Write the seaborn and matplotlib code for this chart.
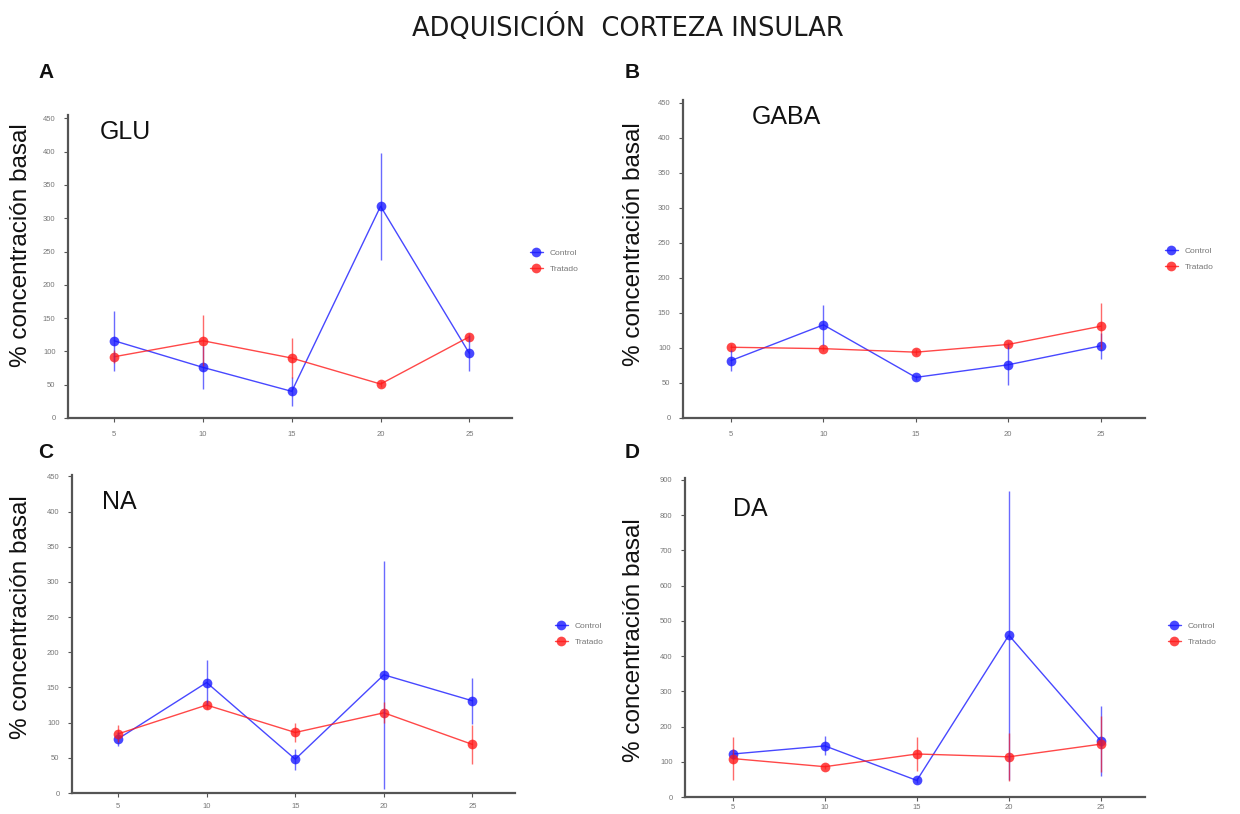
import numpy as np
import pandas as pd
import matplotlib
matplotlib.use("Agg")
import matplotlib.pyplot as plt
import seaborn as sns

sns.set_theme(style="white")
plt.rcParams["font.family"] = ["Liberation Sans", "DejaVu Sans"]

# Time points (min) and groups
tiempos = [5, 10, 15, 20, 25]
grupos = ["Control", "Tratado"]

# GLU
glu_control = [116, 76, 40, 318, 97]
glu_control_err = [45, 32, 22, 80, 27]
glu_tratado = [92, 116, 90, 51, 122]
glu_tratado_err = [10, 38, 30, 5, 5]

# GABA
gaba_control = [82, 133, 58, 76, 103]
gaba_control_err = [15, 29, 4, 29, 19]
gaba_tratado = [101, 99, 94, 105, 131]
gaba_tratado_err = [4, 4, 4, 4, 33]

# NA
na_control = [77, 157, 48, 168, 131]
na_control_err = [10, 32, 15, 162, 33]
na_tratado = [84, 125, 86, 114, 69]
na_tratado_err = [12, 5, 13, 15, 28]

# DA
da_control = [122, 145, 47, 459, 159]
da_control_err = [15, 27, 6, 410, 100]
da_tratado = [109, 86, 122, 114, 150]
da_tratado_err = [60, 6, 48, 68, 80]

colores = {"Control": "#1a1aff", "Tratado": "#ff1a1a"}

W, H = 1240, 814
fig = plt.figure(figsize=(W / 100, H / 100), dpi=100)


def rect(left, top, right, bottom):
    return [left / W, 1 - bottom / H, (right - left) / W, (bottom - top) / H]


paneles = [
    dict(nombre="GLU", letra="A", c=glu_control, ce=glu_control_err,
         t=glu_tratado, te=glu_tratado_err, ymax=450, ytop=455,
         box=(68, 115, 512, 418), letra_xy=(38, 72), tit_xy=(100, 120),
         ylab_xy=(21, 245), leg_xy=(522, 261), pad=6),
    dict(nombre="GABA", letra="B", c=gaba_control, ce=gaba_control_err,
         t=gaba_tratado, te=gaba_tratado_err, ymax=450, ytop=454,
         box=(683, 100, 1145, 418), letra_xy=(625, 72), tit_xy=(752, 105),
         ylab_xy=(634, 244), leg_xy=(1157, 259), pad=6),
    dict(nombre="NA", letra="C", c=na_control, ce=na_control_err,
         t=na_tratado, te=na_tratado_err, ymax=450, ytop=452,
         box=(72, 475, 515, 793), letra_xy=(38, 452), tit_xy=(102, 490),
         ylab_xy=(21, 617), leg_xy=(547, 634), pad=4),
    dict(nombre="DA", letra="D", c=da_control, ce=da_control_err,
         t=da_tratado, te=da_tratado_err, ymax=900, ytop=905,
         box=(685, 478, 1145, 797), letra_xy=(625, 452), tit_xy=(733, 497),
         ylab_xy=(634, 640), leg_xy=(1160, 634), pad=2),
]

for p in paneles:
    ax = fig.add_axes(rect(*p["box"]))
    df = pd.DataFrame({
        "tiempo": tiempos * 2,
        "valor": p["c"] + p["t"],
        "error": p["ce"] + p["te"],
        "grupo": ["Control"] * 5 + ["Tratado"] * 5,
    })
    sns.lineplot(data=df, x="tiempo", y="valor", hue="grupo", hue_order=grupos,
                 palette=colores, marker="o", markersize=7, markeredgewidth=0,
                 linewidth=1.0, alpha=0.8, ax=ax, legend=True)
    for g in grupos:
        sub = df[df["grupo"] == g]
        ax.errorbar(sub["tiempo"], sub["valor"], yerr=sub["error"], fmt="none",
                    ecolor=colores[g], elinewidth=1.0, alpha=0.65, capsize=0)

    ax.set_xlim(2.4, 27.4)
    ax.set_ylim(0, p["ytop"])
    ax.set_xticks(tiempos)
    ax.set_yticks(np.arange(0, p["ymax"] + 1, p["ymax"] // 9))
    ax.tick_params(axis="both", labelsize=5.5, labelcolor="#777777",
                   length=3, width=0.8, color="#555555", direction="out",
                   bottom=True, left=True, pad=6)
    ax.tick_params(axis="x", pad=p["pad"])
    ax.set_xlabel("")
    ax.set_ylabel("")
    for s in ("top", "right"):
        ax.spines[s].set_visible(False)
    for s in ("left", "bottom"):
        ax.spines[s].set_color("#555555")
        ax.spines[s].set_linewidth(1.6)

    leg = ax.legend(loc="center left", frameon=False, fontsize=6,
                    bbox_to_anchor=(p["leg_xy"][0] / W, 1 - p["leg_xy"][1] / H),
                    bbox_transform=fig.transFigure, handlelength=1.6,
                    labelspacing=0.9)
    for txt in leg.get_texts():
        txt.set_color("#777777")

    fig.text(p["tit_xy"][0] / W, 1 - p["tit_xy"][1] / H, p["nombre"],
             fontsize=18, ha="left", va="top", color="#111111")
    fig.text(p["letra_xy"][0] / W, 1 - p["letra_xy"][1] / H, p["letra"],
             fontsize=15, fontweight="bold", ha="left", va="center",
             color="#111111")
    fig.text(p["ylab_xy"][0] / W, 1 - p["ylab_xy"][1] / H,
             "% concentración basal", rotation=90, fontsize=17.5,
             ha="center", va="center", color="#111111")

fig.text(628 / W, 1 - 28 / H, "ADQUISICIÓN  CORTEZA INSULAR", fontsize=18.5,
         ha="center", va="center", color="#1a1a1a", family=["DejaVu Sans"])

fig.savefig("out.png", dpi=100, facecolor="white")
